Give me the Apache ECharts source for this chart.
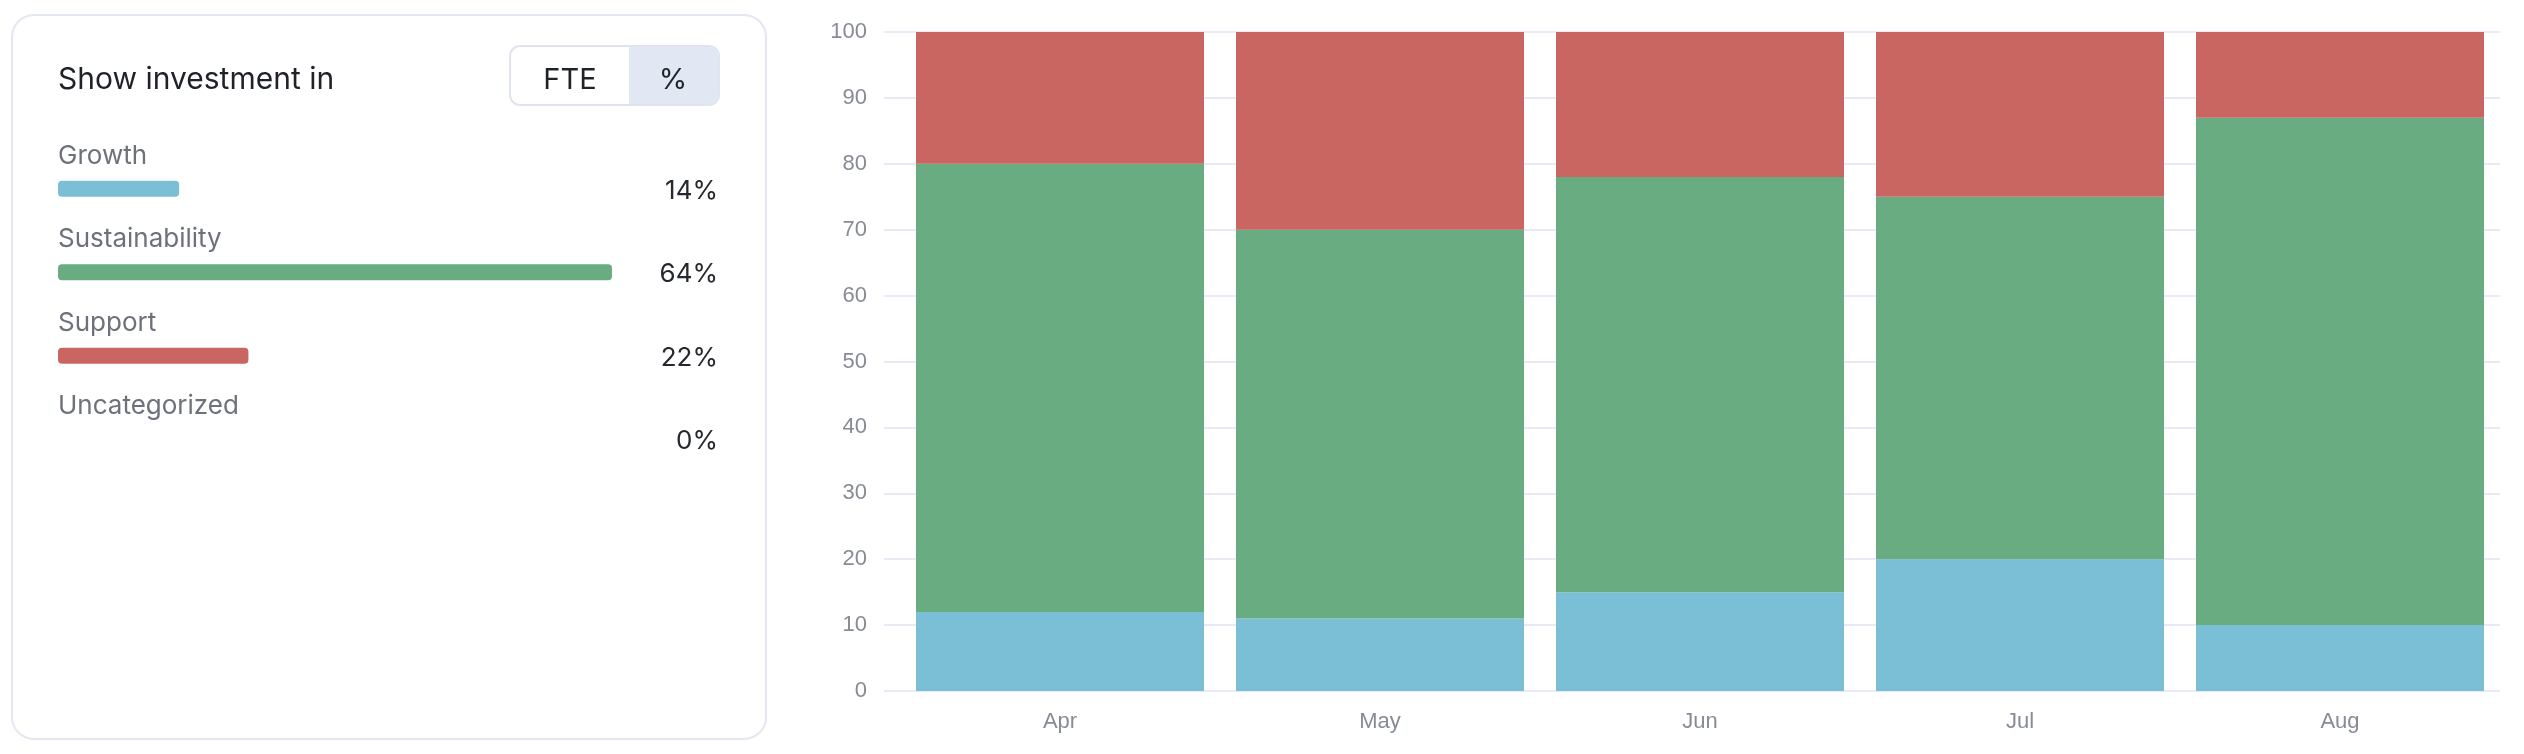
<!DOCTYPE html>
<html>
<head>
<meta charset="utf-8">
<script src="https://cdn.jsdelivr.net/npm/echarts@6.0.0/dist/echarts.min.js"></script>
<style>
html,body{margin:0;padding:0;background:#ffffff;}
#c{width:2524px;height:754px;}
</style>
</head>
<body>
<div id="c"></div>
<script>
// ---- data ----
const months = ['Apr', 'May', 'Jun', 'Jul', 'Aug'];
const growth = [12, 11, 15, 20, 10];
const sustainability = [68, 59, 63, 55, 77];
const support = [20, 30, 22, 25, 13];
const investCategories = ['Growth', 'Sustainability', 'Support', 'Uncategorized'];
const investShare = [14, 64, 22, 0];
const panelTitle = 'Show investment in';
const toggleLabels = ['FTE', '%'];

// ---- styles ----
const C_GROWTH = '#7bbfd6';
const C_SUST = '#69ac82';
const C_SUPPORT = '#c96661';
const C_UNCAT = '#c9ccd3';
const investColors = [C_GROWTH, C_SUST, C_SUPPORT, C_UNCAT];
const GRID_COLOR = '#e8ebf5';
const AXIS_FONT = '"Liberation Sans", Arial, Helvetica, sans-serif';
const UI_FONT = 'Inter, "Noto Sans", sans-serif';

const chart = echarts.init(document.getElementById('c'), null, {renderer: 'canvas'});

const option = {
  animation: false,
  backgroundColor: '#ffffff',
  graphic: [
    {
      type: 'rect', z: -10,
      shape: {x: 12, y: 15, width: 754, height: 724, r: 22},
      style: {fill: '#ffffff', stroke: '#e3e7f1', lineWidth: 2}
    },
    {
      type: 'text', x: 58, y: 80,
      style: {text: panelTitle, fontSize: 30, fontFamily: UI_FONT, fill: '#1f2328', fontWeight: 400, verticalAlign: 'middle'}
    },
    {
      type: 'rect', z: 1,
      shape: {x: 629, y: 47, width: 89, height: 57, r: [0, 9, 9, 0]},
      style: {fill: '#e1e8f4'}
    },
    {
      type: 'rect', z: 2,
      shape: {x: 510, y: 46, width: 209, height: 59, r: 10},
      style: {fill: 'none', stroke: '#dfe4ef', lineWidth: 2}
    },
    {
      type: 'text', z: 3, x: 570, y: 80,
      style: {text: toggleLabels[0], fontSize: 29, fontFamily: UI_FONT, fill: '#1f2328', align: 'center', verticalAlign: 'middle'}
    },
    {
      type: 'text', z: 3, x: 673, y: 80,
      style: {text: toggleLabels[1], fontSize: 29, fontFamily: UI_FONT, fill: '#1f2328', align: 'center', verticalAlign: 'middle'}
    }
  ],
  grid: [
    {left: 900, right: 24, top: 32, bottom: 63},
    {left: 58, top: 147, width: 554, height: 334},
    {left: 58, top: 114, width: 554, height: 334},
    {left: 58, top: 149, width: 554, height: 334}
  ],
  xAxis: [
    {
      gridIndex: 0, type: 'category', data: months,
      axisLine: {show: false}, axisTick: {show: false},
      axisLabel: {margin: 20, fontSize: 22, color: '#868b94', fontFamily: AXIS_FONT}
    },
    {gridIndex: 1, type: 'value', min: 0, max: 'dataMax', show: false},
    {gridIndex: 2, type: 'value', min: 0, max: 100, show: false},
    {gridIndex: 3, type: 'value', min: 0, max: 100, show: false}
  ],
  yAxis: [
    {
      gridIndex: 0, type: 'value', min: 0, max: 100, interval: 10,
      axisLine: {show: false},
      axisTick: {show: true, length: 16, lineStyle: {color: GRID_COLOR, width: 2}},
      splitLine: {show: true, lineStyle: {color: GRID_COLOR, width: 2}},
      axisLabel: {margin: 33, fontSize: 22, color: '#868b94', fontFamily: AXIS_FONT}
    },
    {
      gridIndex: 1, type: 'category', data: investCategories, inverse: true,
      show: false
    },
    {
      gridIndex: 2, type: 'category', data: investCategories, inverse: true,
      axisLine: {show: false}, axisTick: {show: false}, splitLine: {show: false},
      axisLabel: {
        inside: true, margin: 0, align: 'left', verticalAlign: 'middle',
        fontSize: 26, color: '#6c717a', fontFamily: UI_FONT
      }
    },
    {
      gridIndex: 3, type: 'category', data: investCategories, inverse: true, position: 'right',
      axisLine: {show: false}, axisTick: {show: false}, splitLine: {show: false},
      axisLabel: {
        margin: 106, align: 'right', verticalAlign: 'middle',
        fontSize: 26, color: '#25282d', fontFamily: UI_FONT,
        formatter: function (v, i) { return investShare[i] + '%'; }
      }
    }
  ],
  series: [
    {
      name: 'Growth', type: 'bar', stack: 'total', xAxisIndex: 0, yAxisIndex: 0,
      data: growth, barCategoryGap: '10%', itemStyle: {color: C_GROWTH}
    },
    {
      name: 'Sustainability', type: 'bar', stack: 'total', xAxisIndex: 0, yAxisIndex: 0,
      data: sustainability, barCategoryGap: '10%', itemStyle: {color: C_SUST}
    },
    {
      name: 'Support', type: 'bar', stack: 'total', xAxisIndex: 0, yAxisIndex: 0,
      data: support, barCategoryGap: '10%', itemStyle: {color: C_SUPPORT}
    },
    {
      name: 'Share', type: 'bar', xAxisIndex: 1, yAxisIndex: 1,
      barWidth: 16,
      data: investShare.map(function (v, i) { return {value: v, itemStyle: {color: investColors[i]}}; }),
      itemStyle: {borderRadius: 4}
    }
  ]
};

chart.setOption(option);
</script>
</body>
</html>
